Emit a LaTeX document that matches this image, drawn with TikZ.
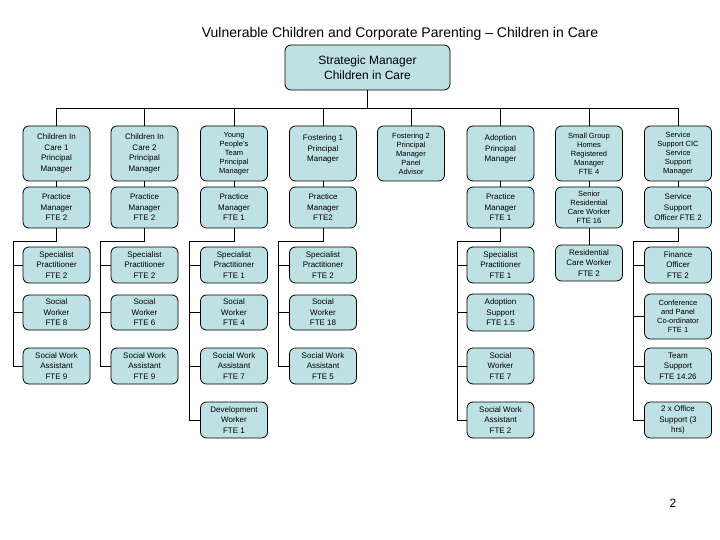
\documentclass[tikz,border=0pt]{standalone}
\usepackage{fontspec}
\setmainfont{Liberation Sans}
\definecolor{boxfill}{RGB}{190,225,228}
\tikzset{
  orgbox/.style={draw=black, line width=0.8pt, rounded corners=6pt, fill=boxfill,
    align=center, inner sep=0pt, minimum width=67pt, font=\fontsize{8}{10.5}\selectfont},
  tight/.style={font=\fontsize{7.5}{9}\selectfont},
  conn/.style={draw=black, line width=0.8pt},
}
\begin{document}
\begin{tikzpicture}[x=1pt,y=-1pt]
\useasboundingbox (0,0) rectangle (720,540);
\fill[white] (0,0) rectangle (720,540);

\node[font=\fontsize{14}{16}\selectfont] (title) at (400,34) {Vulnerable Children and Corporate Parenting -- Children in Care};

\node[orgbox, minimum width=165pt, minimum height=45pt, font=\fontsize{12}{15}\selectfont] (top) at (367.5,67.5) {Strategic Manager\\Children in Care};

% row 1
\node[orgbox, minimum height=55pt] (a1) at (56.5,153.5) {Children In\\Care 1\\Principal\\Manager};
\node[orgbox, minimum height=55pt] (b1) at (144.5,153.5) {Children In\\Care 2\\Principal\\Manager};
\node[orgbox, tight, minimum height=55pt] (c1) at (234,153.5) {Young\\People's\\Team\\Principal\\Manager};
\node[orgbox, minimum height=55pt] (d1) at (323,153.5) {Fostering 1\\Principal\\Manager\\\mbox{}};
\node[orgbox, tight, minimum height=55pt] (e1) at (411,153.5) {Fostering 2\\Principal\\Manager\\Panel\\Advisor};
\node[orgbox, minimum height=55pt] (f1) at (500.5,153.5) {Adoption\\Principal\\Manager\\\mbox{}};
\node[orgbox, tight, minimum height=55pt] (g1) at (589,153.5) {Small Group\\Homes\\Registered\\Manager\\FTE 4};
\node[orgbox, tight, minimum height=55pt] (h1) at (678,153.5) {Service\\Support CIC\\Service\\Support\\Manager};

\foreach \n in {a1,b1,c1,d1,e1,f1,g1,h1}
  \draw[conn] (top.south) -- ++(0,18) -| (\n.north);

% row 2
\node[orgbox, minimum height=41pt] (a2) at (56.5,207.5) {Practice\\Manager\\FTE 2};
\node[orgbox, minimum height=41pt] (b2) at (144.5,207.5) {Practice\\Manager\\FTE 2};
\node[orgbox, minimum height=41pt] (c2) at (234,207.5) {Practice\\Manager\\FTE 1};
\node[orgbox, minimum height=41pt] (d2) at (323,207.5) {Practice\\Manager\\FTE2};
\node[orgbox, minimum height=41pt] (f2) at (500.5,207.5) {Practice\\Manager\\FTE 1};
\node[orgbox, tight, minimum height=41pt] (g2) at (589,207.5) {Senior\\Residential\\Care Worker\\FTE 16};
\node[orgbox, minimum height=41pt] (h2) at (678,207.5) {Service\\Support\\Officer FTE 2};

\foreach \n in {a,b,c,d,f,g,h}
  \draw[conn] (\n1.south) -- (\n2.north);

% row 3
\node[orgbox, minimum height=36pt] (a3) at (56.5,265) {Specialist\\Practitioner\\FTE 2};
\node[orgbox, minimum height=36pt] (b3) at (144.5,265) {Specialist\\Practitioner\\FTE 2};
\node[orgbox, minimum height=36pt] (c3) at (234,265) {Specialist\\Practitioner\\FTE 1};
\node[orgbox, minimum height=36pt] (d3) at (323,265) {Specialist\\Practitioner\\FTE 2};
\node[orgbox, minimum height=36pt] (f3) at (500.5,265) {Specialist\\Practitioner\\FTE 1};
\node[orgbox, minimum height=36pt] (g3) at (589,263) {Residential\\Care Worker\\FTE 2};
\node[orgbox, minimum height=36pt] (h3) at (678,265) {Finance\\Officer\\FTE 2};

% row 4
\node[orgbox, minimum height=35pt] (a4) at (56.5,312.5) {Social\\Worker\\FTE 8};
\node[orgbox, minimum height=35pt] (b4) at (144.5,312.5) {Social\\Worker\\FTE 6};
\node[orgbox, minimum height=35pt] (c4) at (234,312.5) {Social\\Worker\\FTE 4};
\node[orgbox, minimum height=35pt] (d4) at (323,312.5) {Social\\Worker\\FTE 18};
\node[orgbox, minimum height=37pt] (f4) at (500.5,312.5) {Adoption\\Support\\FTE 1.5};
\node[orgbox, tight, minimum height=45pt] (h4) at (678,316.5) {Conference\\and Panel\\Co-ordinator\\FTE 1};

% row 5
\node[orgbox, minimum height=36pt] (a5) at (56.5,366) {Social Work\\Assistant\\FTE 9};
\node[orgbox, minimum height=36pt] (b5) at (144.5,366) {Social Work\\Assistant\\FTE 9};
\node[orgbox, minimum height=36pt] (c5) at (234,366) {Social Work\\Assistant\\FTE 7};
\node[orgbox, minimum height=36pt] (d5) at (323,366) {Social Work\\Assistant\\FTE 5};
\node[orgbox, minimum height=36pt] (f5) at (500.5,366) {Social\\Worker\\FTE 7};
\node[orgbox, minimum height=36pt] (h5) at (678,366) {Team\\Support\\FTE 14.26};

% row 6
\node[orgbox, minimum height=36pt] (c6) at (234,420) {Development\\Worker\\FTE 1};
\node[orgbox, minimum height=36pt] (f6) at (500.5,420) {Social Work\\Assistant\\FTE 2};
\node[orgbox, minimum height=36pt] (h6) at (678,420) {2 x Office\\Support (3\\hrs)};

% spines
\coordinate (va) at (13,366);
\coordinate (vb) at (100,366);
\coordinate (vc) at (189,420);
\coordinate (vd) at (278,366);
\coordinate (vf) at (457,420);
\coordinate (vh) at (633,420);

\draw[conn] (a2.south) -- ++(0,13) -| (va);
\draw[conn] (b2.south) -- ++(0,13) -| (vb);
\draw[conn] (c2.south) -- ++(0,13) -| (vc);
\draw[conn] (d2.south) -- ++(0,13) -| (vd);
\draw[conn] (f2.south) -- ++(0,13) -| (vf);
\draw[conn] (h2.south) -- ++(0,13) -| (vh);
\draw[conn] (g2.south) -- (g3.north);

\foreach \n in {3,4,5} {
  \draw[conn] (va |- a\n.west) -- (a\n.west);
  \draw[conn] (vb |- b\n.west) -- (b\n.west);
  \draw[conn] (vc |- c\n.west) -- (c\n.west);
  \draw[conn] (vd |- d\n.west) -- (d\n.west);
  \draw[conn] (vf |- f\n.west) -- (f\n.west);
  \draw[conn] (vh |- h\n.west) -- (h\n.west);
}
\draw[conn] (vc |- c6.west) -- (c6.west);
\draw[conn] (vf |- f6.west) -- (f6.west);
\draw[conn] (vh |- h6.west) -- (h6.west);

\node[font=\fontsize{12}{14}\selectfont] (page) at (673,503) {2};
\end{tikzpicture}
\end{document}
